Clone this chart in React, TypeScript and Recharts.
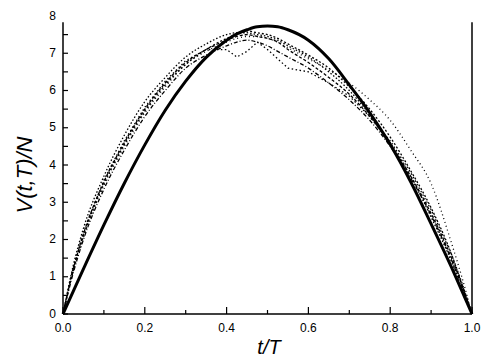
import { LineChart, Line, XAxis, YAxis, ReferenceLine } from "recharts";

// t/T sample points
const tValues = [
  0, 0.025, 0.05, 0.1, 0.15, 0.2, 0.25, 0.3, 0.35, 0.4, 0.425, 0.45, 0.475, 0.5,
  0.525, 0.55, 0.6, 0.65, 0.7, 0.75, 0.8, 0.85, 0.9, 0.95, 0.975, 1.0,
];

// thick solid curve
const exact = [
  0, 0.61, 1.21, 2.39, 3.51, 4.54, 5.47, 6.25, 6.89, 7.35, 7.52, 7.63, 7.71, 7.73,
  7.71, 7.63, 7.35, 6.85, 6.15, 5.4, 4.55, 3.55, 2.42, 1.25, 0.63, 0,
];

// thin dotted curves
const run1 = [
  0, 1.3, 2.3, 3.7, 4.8, 5.7, 6.35, 6.9, 7.25, 7.5, 7.55, 7.55, 7.5, 7.45,
  7.35, 7.2, 6.9, 6.5, 6.0, 5.35, 4.6, 3.7, 2.6, 1.4, 0.7, 0,
];
const run2 = [
  0, 1.2, 2.15, 3.55, 4.6, 5.5, 6.2, 6.75, 7.1, 7.35, 7.45, 7.5, 7.45, 7.4,
  7.3, 7.1, 6.75, 6.35, 5.9, 5.3, 4.55, 3.7, 2.7, 1.5, 0.8, 0,
];
const run3 = [
  0, 1.1, 2.0, 3.35, 4.4, 5.3, 6.0, 6.6, 6.95, 7.2, 7.3, 7.35, 7.3, 7.2,
  7.05, 6.9, 6.6, 6.2, 5.75, 5.2, 4.5, 3.65, 2.65, 1.45, 0.75, 0,
];
const run4 = [
  0, 1.25, 2.2, 3.6, 4.65, 5.55, 6.25, 6.8, 7.1, 7.1, 6.9, 7.05, 7.3, 7.1,
  6.85, 6.6, 6.5, 6.2, 5.85, 5.3, 4.65, 3.8, 2.8, 1.6, 0.85, 0,
];
const run5 = [
  0, 1.15, 2.05, 3.45, 4.5, 5.4, 6.1, 6.7, 7.05, 7.3, 7.4, 7.45, 7.45, 7.4,
  7.3, 7.15, 6.85, 6.55, 6.2, 5.75, 5.2, 4.4, 3.5, 1.9, 1.0, 0,
];
const run6 = [
  0, 1.2, 2.1, 3.5, 4.55, 5.45, 6.15, 6.7, 7.1, 7.4, 7.5, 7.6, 7.55, 7.5,
  7.4, 7.25, 6.95, 6.6, 6.1, 5.5, 4.75, 3.85, 2.85, 1.6, 0.8, 0,
];

const xTicks = [0, 0.1, 0.2, 0.3, 0.4, 0.5, 0.6, 0.7, 0.8, 0.9, 1.0];
const yTicks = [0, 0.5, 1, 1.5, 2, 2.5, 3, 3.5, 4, 4.5, 5, 5.5, 6, 6.5, 7, 7.5, 8];
const yTop = 7.83;

const data = tValues.map((t, i) => ({
  t,
  exact: exact[i],
  r1: run1[i],
  r2: run2[i],
  r3: run3[i],
  r4: run4[i],
  r5: run5[i],
  r6: run6[i],
}));

const font = "'Liberation Sans', Arial, sans-serif";

function XTick(props: any) {
  const { x, y, payload } = props;
  const major = Math.round(payload.value * 10) % 2 === 0;
  return (
    <g>
      <line x1={x} y1={y} x2={x} y2={y - (major ? 7 : 4)} stroke="#000" strokeWidth={1.2} />
      {major && (
        <text x={x} y={y + 18} textAnchor="middle" fontSize={12} fontFamily={font} fill="#000">
          {payload.value.toFixed(1)}
        </text>
      )}
    </g>
  );
}

function YTick(props: any) {
  const { x, y, payload } = props;
  const v = payload.value;
  const major = Number.isInteger(v);
  return (
    <g>
      {v < 8 && <line x1={x} y1={y} x2={x + 5} y2={y} stroke="#000" strokeWidth={1.2} />}
      {major && (
        <text x={x - 7} y={y - 5} dy="0.71em" textAnchor="end" fontSize={12} fontFamily={font} fill="#000">
          {v}
        </text>
      )}
    </g>
  );
}

function RightTick(props: any) {
  const { x, y, payload } = props;
  if (payload.value >= 8) return <g />;
  return <line x1={x} y1={y} x2={x - 5} y2={y} stroke="#000" strokeWidth={1.2} />;
}

export default function App() {
  const dotted = { stroke: "#000", strokeWidth: 1.3, dot: false, isAnimationActive: false };
  return (
    <div style={{ position: "absolute", left: 0, top: 0, background: "#fff" }}>
      <LineChart width={491} height={361} data={data} margin={{ top: 16, right: 18, bottom: 46, left: 62 }}>
        <XAxis
          dataKey="t"
          type="number"
          domain={[0, 1]}
          ticks={xTicks}
          height={1}
          tickSize={0}
          tickMargin={0}
          tick={<XTick />}
          axisLine={{ stroke: "#000", strokeWidth: 1.5 }}
          interval={0}
        />
        <YAxis
          yAxisId="l"
          domain={[0, 8]}
          ticks={yTicks}
          width={1}
          tickSize={0}
          tickMargin={0}
          tick={<YTick />}
          axisLine={false}
          interval={0}
        />
        <YAxis
          yAxisId="r"
          orientation="right"
          domain={[0, 8]}
          ticks={yTicks}
          width={1}
          tickSize={0}
          tickMargin={0}
          tick={<RightTick />}
          axisLine={false}
          interval={0}
        />
        <ReferenceLine yAxisId="l" segment={[{ x: 0, y: 0 }, { x: 0, y: yTop }]} stroke="#000" strokeWidth={1.5} ifOverflow="visible" />
        <ReferenceLine yAxisId="l" segment={[{ x: 1, y: 0 }, { x: 1, y: yTop }]} stroke="#000" strokeWidth={1.5} ifOverflow="visible" />
        <Line yAxisId="l" type="monotone" dataKey="r1" strokeDasharray="1.5 2" {...dotted} />
        <Line yAxisId="l" type="monotone" dataKey="r2" strokeDasharray="3 2" {...dotted} />
        <Line yAxisId="l" type="monotone" dataKey="r3" strokeDasharray="4 2 1 2" {...dotted} />
        <Line yAxisId="l" type="linear" dataKey="r4" strokeDasharray="1.5 2.5" {...dotted} />
        <Line yAxisId="l" type="monotone" dataKey="r5" strokeDasharray="1 3" {...dotted} />
        <Line yAxisId="l" type="monotone" dataKey="r6" strokeDasharray="2 2" {...dotted} />
        <Line yAxisId="l" type="monotone" dataKey="exact" stroke="#000" strokeWidth={3} dot={false} isAnimationActive={false} />
      </LineChart>
      <div
        style={{
          position: "absolute",
          left: 25,
          top: 175,
          transform: "translate(-50%, -50%) rotate(-90deg)",
          fontFamily: font,
          fontStyle: "italic",
          fontSize: 22,
          whiteSpace: "nowrap",
          color: "#000",
        }}
      >
        V(t,T)/N
      </div>
      <div
        style={{
          position: "absolute",
          left: 269,
          top: 347,
          transform: "translate(-50%, -50%)",
          fontFamily: font,
          fontStyle: "italic",
          fontSize: 20,
          whiteSpace: "nowrap",
          color: "#000",
        }}
      >
        t/T
      </div>
    </div>
  );
}
